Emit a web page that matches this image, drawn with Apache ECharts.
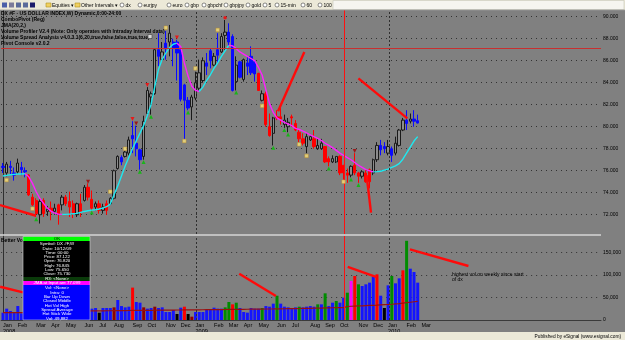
<!DOCTYPE html>
<html>
<head>
<meta charset="utf-8">
<script src="https://cdn.jsdelivr.net/npm/echarts@6/dist/echarts.min.js"></script>
<style>
  html, body { margin: 0; padding: 0; background: #808080; }
  #chart { width: 625px; height: 340px; }
</style>
</head>
<body>
<div id="chart"></div>
<script>
// weekly DX #F bars, week ending Fridays from 4 Jan 2008
const firstWeekEnd = Date.UTC(2008, 0, 4);
const nSlots = 162; // bars + empty space on the right
const monthNames = ['Jan','Feb','Mar','Apr','May','Jun','Jul','Aug','Sep','Oct','Nov','Dec'];
const weekDates = [];
for (let i = 0; i < nSlots; i++) weekDates.push(new Date(firstWeekEnd + i * 7 * 86400000));
const categories = weekDates.map(d => d.toISOString().slice(0, 10));

const open = [76.3,75.8,76.4,75.8,75.9,76.1,76.0,75.6,73.6,73.3,
  72.0,73.3,72.3,72.6,72.3,72.9,72.9,73.6,73.2,73.0,
  72.0,73.0,73.3,74.5,73.4,72.7,73.0,72.4,73.0,73.0,
  73.5,76.2,77.2,77.3,77.6,78.9,78.5,77.9,77.3,81.2,
  82.7,83.0,87.0,86.1,87.6,87.7,87.7,87.7,87.0,83.8,
  82.4,81.8,82.6,83.5,84.2,85.8,86.9,85.6,87.0,86.8,
  88.3,88.6,88.2,84.1,85.9,84.3,85.8,86.4,85.9,84.85,
  82.4,83.0,80.0,79.4,80.9,80.9,80.2,80.0,80.9,80.3,
  79.5,78.9,78.2,78.8,78.9,78.0,78.0,78.2,77.1,76.8,
  76.8,77.3,76.5,75.8,75.6,76.5,75.8,75.5,75.8,76.1,
  75.8,77.0,78.3,78.0,77.6,78.0,77.6,78.3,79.7,80.6,
  80.5,80.7,80.55];
const high = [76.7,76.8,76.9,76.3,77.1,76.8,76.3,75.7,73.9,73.5,
  73.4,73.5,72.8,73.2,73.0,73.0,73.8,73.8,74.1,73.3,
  73.1,73.9,74.7,74.85,74.2,73.2,73.3,73.0,73.3,73.6,
  76.1,77.4,77.4,77.8,79.1,80.5,80.1,78.0,81.0,83.6,
  83.2,87.1,88.5,87.7,88.7,89.25,88.0,87.9,87.3,83.9,
  82.7,82.9,85.0,86.1,86.3,86.7,87.1,86.7,88.5,88.5,
  89.7,89.4,88.4,86.4,86.0,86.2,86.4,87.3,86.0,84.9,
  83.3,83.2,81.2,80.9,81.5,81.8,81.1,80.8,81.1,80.6,
  79.7,79.4,79.4,79.2,79.7,78.9,78.9,78.2,77.3,77.4,
  77.3,77.4,76.5,76.2,76.5,77.6,75.9,76.0,76.1,76.2,
  77.1,78.6,78.8,78.6,78.8,78.2,79.1,79.8,80.8,81.5,
  81.2,81.5,81.1];
const low = [75.8,75.5,75.7,75.1,75.7,75.6,75.4,73.7,72.8,71.8,
  71.2,71.8,71.9,71.5,72.0,71.1,72.4,72.8,71.8,71.7,
  71.8,71.8,73.2,73.3,72.4,72.4,72.1,72.1,72.0,72.9,
  73.4,76.1,76.5,77.2,77.4,77.6,77.3,76.1,77.0,81.1,
  81.1,82.9,85.5,85.9,86.1,86.4,85.5,84.2,82.3,78.9,
  81.5,80.6,82.4,83.3,84.0,84.7,85.3,85.5,85.8,86.7,
  87.0,87.3,83.2,83.3,84.4,84.1,84.7,84.7,84.1,83.3,
  82.3,80.0,79.1,78.3,80.6,80.2,79.9,79.5,80.0,79.6,
  78.6,78.3,77.6,78.7,78.0,77.9,77.9,76.7,76.4,76.7,
  76.7,75.6,75.2,74.9,75.4,75.6,74.9,75.3,74.9,74.4,
  75.6,76.8,77.4,77.6,77.4,76.8,77.4,78.2,79.6,79.7,
  80.3,80.0,80.3];
const close = [76.4,76.6,76.3,75.6,76.7,76.3,75.9,73.8,72.9,72.1,
  73.2,72.1,72.5,72.3,72.6,72.1,73.6,73.0,72.7,72.1,
  73.0,72.3,74.5,73.6,72.6,73.0,72.4,72.7,72.4,73.5,
  76.0,77.3,76.8,77.7,78.8,79.2,78.0,77.0,80.5,83.3,
  83.0,87.0,86.4,86.8,87.1,88.5,87.1,86.7,82.5,82.4,
  81.7,82.7,84.0,84.9,86.0,85.5,86.0,86.4,86.5,88.2,
  88.6,87.7,83.3,85.6,84.5,86.1,85.5,84.9,84.8,83.3,
  83.0,80.2,79.2,80.8,80.8,80.7,80.6,80.4,80.8,79.7,
  78.9,78.5,79.1,79.1,78.2,78.3,78.5,76.8,76.8,77.1,
  77.3,75.8,75.8,75.6,76.4,75.8,75.5,75.9,75.0,75.0,
  77.0,78.3,77.9,78.2,78.2,77.4,78.5,79.7,80.6,80.3,
  80.7,80.5,80.335];
// bar colouring from the VSA study: g = up (grey), r = down (red), b = blue
const barKind = 'bgbbgbbrrr' + 'grgrgrgrrr' + 'grgrrgrgrg' + 'ggbggbbbgg' + 'ggbgbgbbbb' +
  'bggggbbgbg' + 'gbbgbgbbbr' + 'grrgrrggrr' + 'rrggrggrrg' + 'grrrgrrgrr' + 'ggbbgbgggb' + 'gbb';

// JMA(20,2)
const jma = [75.52,75.58,75.64,75.67,75.70,75.71,75.72,75.45,74.85,74.09,
  73.48,73.03,72.61,72.33,72.15,72.06,72.03,72.03,72.06,72.09,
  72.12,72.21,72.30,72.36,72.42,72.45,72.52,72.61,72.73,72.97,
  73.8,74.6,75.5,76.4,77.2,78.0,78.7,79.4,80.1,81.0,
  82.0,83.6,85.2,86.1,86.7,87.2,87.5,87.6,87.3,85.8,
  84.6,83.7,83.3,83.2,83.6,84.2,84.7,85.3,85.8,86.4,
  86.9,87.4,87.35,87.1,86.8,86.6,86.4,86.2,86.0,85.4,
  84.7,83.4,82.1,81.3,80.8,80.6,80.4,80.25,80.1,79.85,
  79.75,79.6,79.45,79.25,79.1,78.95,78.75,78.5,78.3,78.1,
  77.85,77.6,77.4,77.2,77.0,76.75,76.5,76.3,76.1,76.0,
  75.9,75.92,75.95,76.05,76.15,76.3,76.45,76.65,77.05,77.6,
  78.15,78.7,79.1];

// pivot markers [bar, price]
const yellowSquares = [[1,75.15],[8,72.55],[29,74.1],[33,78.0],[44,89.0],[49,78.7],[52,85.3],[58,88.8],[70,81.9],[80,78.4],[82,77.35],[92,75.0]];
const greenTriangles = [[9,71.6],[24,72.2],[37,75.9],[38,76.8],[40,80.9],[50,81.3],[63,83.1],[73,78.1],[76,79.7],[77,79.3],[88,76.2],[94,75.2],[96,74.7]];
const redTriangles = [[35,80.7],[39,83.8],[47,88.1]];
const darkRedTriangles = [[23,75.0],[36,80.3],[95,77.8]];
const redDots = [[60,89.9]];

// Better Volume
const volume = [16300,25200,20000,17800,31100,14800,22000,28000,35000,24000,
  30000,26000,20000,25000,32000,27000,22000,29000,24000,21000,
  26000,23000,30000,27000,25200,26700,16300,26700,26700,26700,
  28100,44400,31000,28100,29600,72000,40000,38500,28100,25200,
  26700,29600,26700,28100,17800,17800,22200,13300,27400,29600,
  13300,7400,17800,17800,17800,22200,22200,27400,25200,25200,
  28100,40000,34800,38500,26700,17800,16300,26700,25200,25200,
  26700,31000,29600,36300,54000,36300,29600,28100,26700,28100,
  29600,28100,29600,31000,29600,34800,34800,59300,31000,38500,
  42200,38500,49600,60700,86700,97800,79300,75500,79300,83000,
  96300,101500,54000,26700,77000,97800,81500,92600,110400,176000,
  114000,106700,83000];
// b blue, g green, r red, m maroon, k black, p magenta
const volKind = 'bbbbbbbbbb' + 'bbbbbbbbbb' + 'bbbbbbkbbb' + 'mbbbbrbbmb' + 'bmbbbbbkbr' +
  'kmbbbbbbbb' + 'ggrgbbbbbb' + 'gbbbgbbbbb' + 'gbbbbgbgbb' + 'gbbgprgbbb' + 'brbkbgbbrg' + 'bbb';
const volAvg = [16500,16500,16500,16500,16500,16500,
  16800,17000,17300,17500,17800,18000,18200,18500,18700,19000,19200,19400,19600,19800,20000,20000,20100,20100,
  20200,20300,20300,20400,20500,20600,20700,20800,20900,21000,21100,21200,21300,21400,21500,21600,21600,21700,21800,21900,22000,22000,22100,22200,22200,22300,
  22400,22500,22600,22700,22800,22900,23000,23000,23100,23200,
  23300,23400,23500,23600,23700,23800,23900,24000,24100,24200,24300,24400,24500,24600,24800,24900,25000,25100,25200,25300,
  25500,25700,25900,26000,26200,26400,26600,26800,27000,27200,27300,27400,27500,
  30000,30500,31000,31300,31600,32000,32300,32600,33000,33500,34000,34500,35000,35800,36500,37500,38500,39500,40500,41500];

// hand drawn trend lines [[bar, value], [bar, value]]
const priceLines = [[[-0.77,72.88],[8.95,71.91]], [[74.3,81.4],[81.4,86.8]], [[96.0,84.4],[109.2,80.76]], [[98.2,75.6],[99.4,72.2]]];
const volLines = [[[-0.77,74000],[5.4,61500]], [[63.8,103000],[73.7,53300]], [[93.1,118000],[100.9,95500]], [[109.9,157000],[125.7,120000]]];

const yearLines = [52.15, 104.25];
const cursorBar = 92.2, cursorPrice = 87.122;
const priceTicks = [72, 74, 76, 78, 80, 82, 84, 86, 88, 90];

const FONT = '"Liberation Sans", Arial, sans-serif';
const candleCol = { g: ['#8c8c8c', '#1a1a1a'], r: ['#ff0000', '#ff0000'], b: ['#0a0aff', '#0a0aff'] };
const volCol = { b: '#1414ff', g: '#008c00', r: '#ff0000', m: '#900000', k: '#000000', p: '#ff00ff' };

const candleData = open.map((o, i) => {
  const c = candleCol[barKind[i]];
  return { value: [o, close[i], low[i], high[i]],
    itemStyle: { color: c[0], color0: c[0], borderColor: c[1], borderColor0: c[1], borderWidth: 1 } };
});
const volData = volume.map((v, i) => ({ value: v, itemStyle: { color: volCol[volKind[i]] } }));

// JMA coloured cyan when rising, magenta when falling
const jmaSeries = [];
let runStart = 0;
for (let s = 0; s < jma.length - 1; s++) {
  const up = jma[s + 1] >= jma[s];
  const nextUp = s + 2 < jma.length ? jma[s + 2] >= jma[s + 1] : null;
  if (nextUp !== up) {
    const d = new Array(nSlots).fill(null);
    for (let k = runStart; k <= s + 1; k++) d[k] = jma[k];
    jmaSeries.push({ type: 'line', xAxisIndex: 0, yAxisIndex: 0, data: d, showSymbol: false, z: 4,
      lineStyle: { width: 1.4, color: up ? '#1ee8f0' : '#ff20ff' }, silent: true });
    runStart = s + 1;
  }
}

function scatter(data, symbol, color, size, rotate) {
  return { type: 'scatter', xAxisIndex: 0, yAxisIndex: 0, data, symbol, symbolSize: size,
    symbolRotate: rotate || 0, z: 6, itemStyle: { color, borderColor: symbol === 'rect' ? '#c89020' : color, borderWidth: symbol === 'rect' ? 0.5 : 0 } };
}

function isMonthStart(i) {
  if (i > 113) return false;
  if (i === 0) return true;
  return weekDates[i].getUTCMonth() !== weekDates[i - 1].getUTCMonth();
}

const option = {
  backgroundColor: '#808080',
  animation: false,
  grid: [
    { left: 1, top: 10, width: 600, height: 224 },
    { left: 1, top: 236, width: 600, height: 84 }
  ],
  xAxis: [
    { type: 'category', gridIndex: 0, data: categories, axisLine: { show: false }, axisTick: { show: false }, axisLabel: { show: false }, splitLine: { show: false } },
    { type: 'category', gridIndex: 1, data: categories, axisLine: { show: true, lineStyle: { color: '#3a3a3a' } }, axisTick: { show: false },
      axisLabel: { interval: 0, align: 'left', margin: 2, fontSize: 5.5, lineHeight: 6, color: '#000', fontFamily: FONT,
        formatter: (v, i) => {
          if (!isMonthStart(i)) return '';
          const m = weekDates[i].getUTCMonth();
          return m === 0 ? monthNames[m] + '\n' + weekDates[i].getUTCFullYear() : monthNames[m];
        } },
      splitLine: { show: false } },
    { type: 'value', gridIndex: 0, min: -0.5, max: nSlots - 0.5, show: false },
    { type: 'value', gridIndex: 1, min: -0.5, max: nSlots - 0.5, show: false }
  ],
  yAxis: [
    { type: 'value', gridIndex: 0, position: 'right', min: 70.25, max: 90.61, splitNumber: 10, minInterval: 2, maxInterval: 2,
      axisLine: { show: true, lineStyle: { color: '#303030' } }, axisTick: { show: false },
      axisLabel: { margin: 2, fontSize: 5, color: '#000', fontFamily: FONT,
        formatter: v => priceTicks.some(t => Math.abs(t - v) < 1e-6) ? v.toFixed(3) : '' },
      splitLine: { show: true, showMinLine: false, showMaxLine: false, lineStyle: { type: [1, 4], color: '#333', width: 1 } } },
    { type: 'value', gridIndex: 1, position: 'right', min: 0, max: 186667, splitNumber: 4, minInterval: 50000, maxInterval: 50000,
      axisLine: { show: true, lineStyle: { color: '#303030' } }, axisTick: { show: false },
      axisLabel: { margin: 2, fontSize: 5, color: '#000', fontFamily: FONT,
        formatter: v => v % 50000 === 0 ? v.toLocaleString('en-US') : '' },
      splitLine: { show: true, showMinLine: false, showMaxLine: false, lineStyle: { type: [1, 4], color: '#333', width: 1 } } }
  ],
  series: [
    { type: 'candlestick', xAxisIndex: 0, yAxisIndex: 0, data: candleData, barWidth: 2.8, z: 3 },
    ...jmaSeries,
    scatter(yellowSquares, 'rect', '#f8e27a', 3.5),
    scatter(greenTriangles, 'triangle', '#00c000', 4),
    scatter(redTriangles, 'triangle', '#ff0000', 4, 180),
    scatter(darkRedTriangles, 'triangle', '#a00000', 4, 180),
    scatter(redDots, 'circle', '#ff0000', 3.5),
    ...priceLines.map((seg, k) => ({
      type: 'line', xAxisIndex: 2, yAxisIndex: 0, data: seg, showSymbol: false, silent: true, z: 7,
      lineStyle: { color: '#ff0a0a', width: 2.4 },
      markLine: k === 0 ? {
        silent: true, symbol: 'none', animation: false,
        data: [
          ...yearLines.map(x => ({ xAxis: x, lineStyle: { type: [2, 2], color: '#303030', width: 1 }, label: { show: false } })),
          { xAxis: cursorBar, lineStyle: { type: 'solid', color: '#ff1010', width: 1 }, label: { show: false } },
          { yAxis: cursorPrice, lineStyle: { type: 'solid', color: '#c83030', width: 1 }, label: { show: false } },
          { yAxis: close[close.length - 1], lineStyle: { opacity: 0 },
            label: { show: true, position: 'end', distance: 2, formatter: close[close.length - 1].toFixed(3), color: '#fff',
              backgroundColor: '#1010ff', fontSize: 5, fontFamily: FONT, padding: [0.5, 1] } },
          { yAxis: jma[jma.length - 1], lineStyle: { opacity: 0 },
            label: { show: true, position: 'end', distance: 2, formatter: jma[jma.length - 1].toFixed(3), color: '#000',
              backgroundColor: '#ffffff', fontSize: 5, fontFamily: FONT, padding: [0.5, 1] } }
        ]
      } : undefined
    })),
    { type: 'bar', xAxisIndex: 1, yAxisIndex: 1, data: volData, barWidth: 3, z: 3 },
    { type: 'line', xAxisIndex: 1, yAxisIndex: 1, data: volAvg, showSymbol: false, silent: true, z: 4,
      lineStyle: { color: '#9a1010', width: 1.2 } },
    ...volLines.map((seg, k) => ({
      type: 'line', xAxisIndex: 3, yAxisIndex: 1, data: seg, showSymbol: false, silent: true, z: 7,
      lineStyle: { color: '#ff0a0a', width: 2.4 },
      markLine: k === 0 ? {
        silent: true, symbol: 'none', animation: false,
        data: [
          ...yearLines.map(x => ({ xAxis: x, lineStyle: { type: [2, 2], color: '#303030', width: 1 }, label: { show: false } })),
          { xAxis: cursorBar, lineStyle: { type: 'solid', color: '#ff1010', width: 1 }, label: { show: false } },
          { yAxis: volume[volume.length - 1], lineStyle: { opacity: 0 },
            label: { show: true, position: 'end', distance: 2, formatter: volume[volume.length - 1].toLocaleString('en-US'), color: '#fff',
              backgroundColor: '#1010ff', fontSize: 5, fontFamily: FONT, padding: [0.5, 1] } },
          { yAxis: volAvg[volAvg.length - 1], lineStyle: { opacity: 0 },
            label: { show: true, position: 'end', distance: 2,
              formatter: volAvg[volAvg.length - 1].toLocaleString('en-US', { minimumFractionDigits: 2 }), color: '#fff',
              backgroundColor: '#900000', fontSize: 5, fontFamily: FONT, padding: [0.5, 1] } }
        ]
      } : undefined
    }))
  ],
  graphic: []
};

// screen furniture: toolbar, study titles, data window, footer
const g = option.graphic;
function text(x, y, s, opt) {
  g.push({ type: 'text', x, y, z: 100, silent: true,
    style: Object.assign({ text: s, fill: '#000', font: 'bold 5px ' + FONT, textAlign: 'left', align: 'left',
      textVerticalAlign: 'middle', verticalAlign: 'middle' }, opt || {}) });
}
function rect(x, y, w, h, fill, z, stroke) {
  g.push({ type: 'rect', z: z || 99, silent: true, shape: { x, y, width: w, height: h },
    style: { fill, stroke: stroke || null, lineWidth: stroke ? 0.6 : 0 } });
}

// toolbar
rect(0, 0, 625, 10, '#ece9d8', 98);
rect(333, 0.5, 291, 9, '#f6f5f0', 98, '#c8c6b8');
g.push({ type: 'line', z: 99, silent: true, shape: { x1: 0, y1: 10, x2: 625, y2: 10 }, style: { stroke: '#9a9a9a', lineWidth: 0.8 } });
[2, 9, 16, 23, 30].forEach((x, k) => rect(x, 2.5, 5, 5, ['#4a5fa8', '#7a7a9a', '#5a6a9a', '#5a6a9a', '#1a1a6a'][k], 100));
rect(46, 3, 5, 4, '#f0d060', 100, '#b09020');
text(52, 5.2, 'Equities \u25BE', { font: '5px ' + FONT });
rect(75, 3, 5, 4, '#f0d060', 100, '#b09020');
text(81, 5.2, 'Other Intervals \u25BE', { font: '5px ' + FONT });
[[120, 'dx'], [138, 'eurjpy'], [167, 'euro'], [185, 'gbp'], [202, 'gbpchf'], [224, 'gbpjpy'], [246, 'gold'],
 [263, '5'], [275, '15-min'], [301, '60'], [318, '100']].forEach(([x, s]) => {
  g.push({ type: 'circle', z: 100, silent: true, shape: { cx: x + 2, cy: 5, r: 2 }, style: { fill: '#ffffff', stroke: '#404040', lineWidth: 0.6 } });
  text(x + 5.5, 5.2, s, { font: '5px ' + FONT });
});

// study titles
['DX #F - US DOLLAR INDEX,W) Dynamic,0:00-24:00', 'ComboPivot (Reg)', 'JMA(20,2,)',
 'Volume Profiler V2.4 (Note: Only operates with Intraday Interval data)',
 'Volume Spread Analysis v4.0.3.1(6,20,true,false,false,true,true)', 'Pivot Console v2.0.2'
].forEach((s, k) => text(1, 13.2 + k * 6, s));
rect(148, 34.5, 4, 4, '#d8d8d8', 100, '#404040');

// panel separator
g.push({ type: 'line', z: 99, silent: true, shape: { x1: 0, y1: 235, x2: 601, y2: 235 }, style: { stroke: '#ffffff', lineWidth: 1.2 } });
text(1, 241, 'Better Volume');

// data window
rect(23, 236.5, 67, 4.5, '#00ff00', 101);
rect(23, 241, 67, 36, '#000000', 101);
rect(23, 277, 67, 4, '#0a3a0a', 101);
rect(23, 281, 67, 4, '#ff00ff', 101);
rect(23, 285, 67, 35, '#0000ff', 101);
rect(23, 236.5, 67, 83.5, 'none', 102, '#d0d0d0');
function boxText(y, s, col) {
  g.push({ type: 'text', x: 57, y, z: 103, silent: true,
    style: { text: s, fill: col || '#fff', font: '4.4px ' + FONT, textAlign: 'center', align: 'center', textVerticalAlign: 'middle', verticalAlign: 'middle' } });
}
boxText(238.8, 'OK', '#000');
['Symbol: DX #F,W', 'Date: 10/12/09', 'Time: 00:00', 'Price: 87.122', 'Open: 76.820', 'High: 76.845', 'Low: 75.650', 'Close: 75.730']
  .forEach((s, k) => boxText(244 + k * 4.3, s));
boxText(279, 'R3: <None>');
boxText(283, 'JMA at Input are 77.099');
['Vol: <None>', 'Intra: 0', 'Bar Up Down', 'Closed Middle', 'Hot Vol High', 'Spread Average', 'Hot Stick Wide', 'Vol: 49,882']
  .forEach((s, k) => boxText(288 + k * 4.35, s));

// note on the volume panel
text(452, 274.3, 'highest vol on weekly since start', { font: '5px ' + FONT });
text(452, 280, 'of dx', { font: '5px ' + FONT });

// footer
rect(0, 332, 625, 8, '#ece9d8', 98);
g.push({ type: 'text', x: 621, y: 336.5, z: 100, silent: true,
  style: { text: 'Published by eSignal (www.esignal.com)', fill: '#000', font: '4.8px ' + FONT, textAlign: 'right', align: 'right', textVerticalAlign: 'middle', verticalAlign: 'middle' } });

const chart = echarts.init(document.getElementById('chart'));
chart.setOption(option);
</script>
</body>
</html>
